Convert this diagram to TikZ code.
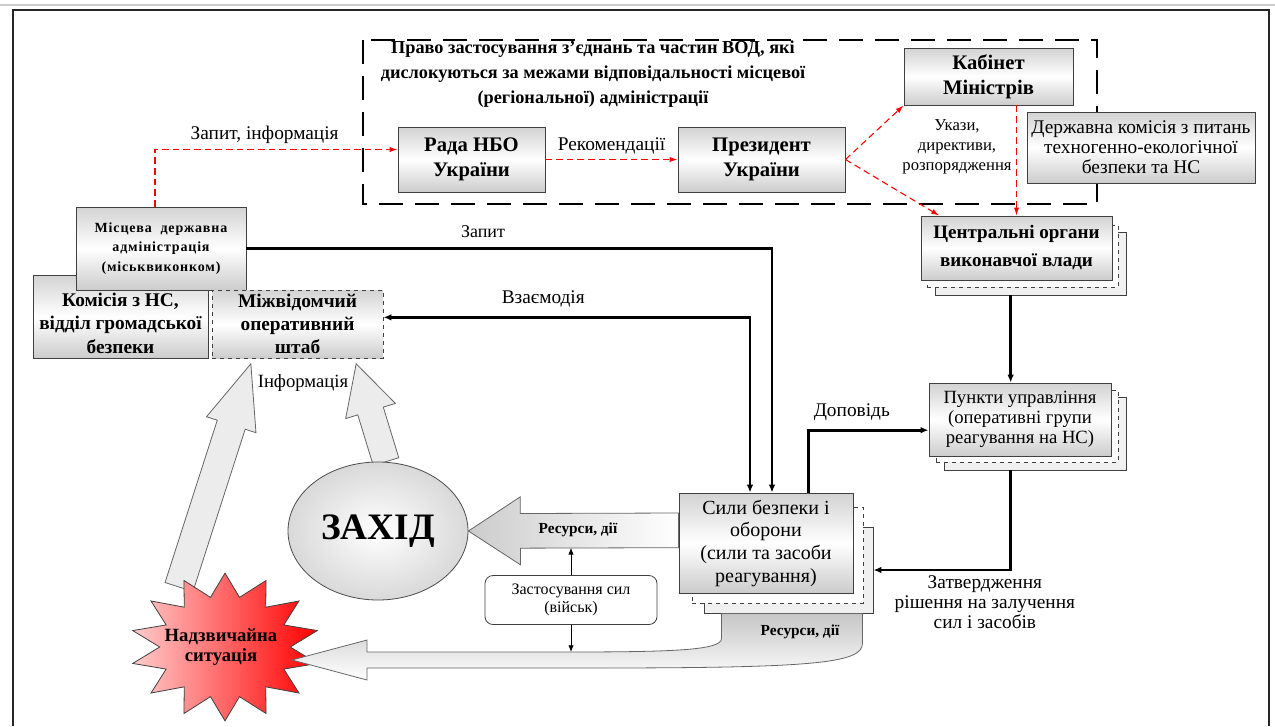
\documentclass[tikz,border=0pt]{standalone}
\usepackage{fontspec}
\setmainfont{Liberation Serif}
\usetikzlibrary{arrows.meta,calc,shapes.geometric,backgrounds}

\tikzset{
  box/.style={draw=black!75, line width=0.7pt, top color=gray!35, bottom color=gray!40, middle color=white, align=center, inner sep=1pt},
  backbox/.style={draw=black!75, line width=0.7pt, fill=gray!12},
  midbox/.style={draw=black!75, line width=0.6pt, dashed, fill=white},
  boxsize/.style 2 args={minimum width=#1*0.75pt, minimum height=#2*0.75pt},
  boxfont/.style={font=\fontsize{14.5}{17.5}\selectfont\bfseries},
  topfont/.style={font=\fontsize{15.5}{19}\selectfont\bfseries},
  bigfont/.style={font=\fontsize{14.3}{21}\selectfont\bfseries},
  labelfont/.style={font=\fontsize{14.5}{15}\selectfont},
  smallbold/.style={font=\fontsize{11.5}{13}\selectfont\bfseries},
  flow/.style={line width=2pt, -{Latex[length=6pt,width=5pt]}},
  reddash/.style={red, line width=0.8pt, dash pattern=on 5pt off 3pt, -{Latex[length=6pt,width=4pt]}},
  infoarrow/.style={draw=black!60, line width=0.6pt, fill=gray!15},
  resarrow/.style={draw=black!60, line width=0.6pt, left color=gray!40, right color=white},
  resarrowb/.style={draw=black!60, line width=0.6pt, top color=gray!45, bottom color=white},
}

% block arrow: start, tip, shaft half width, head half width, head length, style
\newcommand\blockarrow[6]{%
  \coordinate (ba-h) at ($(#2)!#5!(#1)$);
  \draw[#6] ($(#1)!#3!90:(#2)$) -- ($(ba-h)!#3!90:(#2)$) -- ($(ba-h)!#4!90:(#2)$)
    -- (#2) -- ($(ba-h)!#4!-90:(#2)$) -- ($(ba-h)!#3!-90:(#2)$) -- ($(#1)!#3!-90:(#2)$) -- cycle;
}

\begin{document}
\begin{tikzpicture}[x=0.75pt,y=-0.75pt]
\useasboundingbox (0,0) rectangle (1275,726);
% Frame
\draw[gray!40, line width=2pt] (0,5) -- (1275,5);
\draw[black!85, line width=1pt] (13,726) -- (13,10) -- (1269,10) -- (1269,726);

% Area of the higher authorities
\draw[line width=2.2pt, dash pattern=on 18pt off 9pt] (363,40) rectangle (1097,204);
\node[font=\fontsize{13.7}{18.75}\selectfont\bfseries, align=center] (pravo) at (593,74)
  {Право застосування з’єднань та частин ВОД, які\\дислокуються за межами відповідальності місцевої\\(регіональної) адміністрації};

\node[box, topfont, boxsize={147}{65}] (rada) at (471.5,159.5) {Рада НБО\\України};
\node[box, topfont, boxsize={167}{65}] (prez) at (761.5,159.5) {Президент\\України};
\node[box, topfont, boxsize={169}{57}] (kabmin) at (988.5,76.5) {Кабінет\\Міністрів};
\node[box, labelfont, boxsize={228}{71}] (derzhkom) at (1141,147.5) {Державна комісія з питань\\техногенно-екологічної\\безпеки та НС};

% Local level
\node[box, boxsize={175}{83}, label={[boxfont, align=center, yshift=-5pt]center:{Комісія з НС,\\відділ громадської\\безпеки}}] (komisiya) at (120.5,316.5) {};
\node[box, boxsize={170}{83}, font=\fontsize{10.5}{14.5}\selectfont\bfseries\addfontfeature{LetterSpace=6}] (mistseva) at (161,248.5) {Місцева \ державна\\адміністрація\\(міськвиконком)};
\node[box, dashed, boxfont, boxsize={171}{68}] (shtab) at (297.5,324) {Міжвідомчий\\оперативний\\штаб};

% Stacked boxes
\node[backbox, boxsize={191}{63}] (tsentr3) at (1030.5,263.5) {};
\node[midbox, boxsize={191}{62}] (tsentr2) at (1022.5,256) {};
\node[box, bigfont, boxsize={191}{64}] (tsentr) at (1016.5,248) {Центральні органи\\виконавчої влади};

\node[backbox, boxsize={182}{73}] (punkty3) at (1035,433.5) {};
\node[midbox, boxsize={182}{72}] (punkty2) at (1027,426) {};
\node[box, font=\fontsize{14}{15}\selectfont, boxsize={182}{73}] (punkty) at (1020,419.5) {Пункти управління\\(оперативні групи\\реагування на НС)};

\node[backbox, boxsize={169}{86}] (syly3) at (788.5,570) {};
\node[midbox, boxsize={171}{96}] (syly2) at (777.5,555) {};
\node[box, font=\fontsize{15}{17}\selectfont, boxsize={174}{100}] (syly) at (766,543) {Сили безпеки і\\оборони\\(сили та засоби\\реагування)};

\node[draw=black!75, line width=0.6pt, rounded corners=6pt, fill=white, align=center, font=\fontsize{12}{14}\selectfont, boxsize={172}{49}] (zast) at (571,600) {Застосування сил\\(військ)};

\node[ellipse, draw=black!70, line width=0.6pt, inner color=white, outer color=gray!30, boxsize={180}{138}, font=\fontsize{28}{30}\selectfont\bfseries] (zakhid) at (378,531) {ЗАХІД};

% Emergency
\node[star, star points=14, star point ratio=1.45, draw=black!75, line width=0.6pt, left color=red!20, right color=red, minimum size=142pt, inner sep=0pt, yscale=0.78] (nsstar) at (225,647) {};
\node[font=\fontsize{14}{15}\selectfont\bfseries, align=center] (nsit) at (221,647) {Надзвичайна\\ситуація};

% Red links
\draw[reddash] ([xshift=-4.5pt]mistseva.north) |- ([yshift=7.5pt]rada.west) node[pos=0.726, above=1pt, labelfont, black] {Запит, інформація};
\draw[reddash] (rada.east) -- (prez.west) node[midway, above, labelfont, black] {Рекомендації};
\draw[reddash] (prez.east) -- (kabmin.south west);
\draw[reddash] (prez.east) -- ([xshift=14pt]tsentr.north west);
\draw[reddash] (kabmin.south -| tsentr.north) -- (tsentr.north);
\node[font=\fontsize{12.5}{15}\selectfont, align=center] (ukazy) at (957,147) {Укази,\\директиви,\\розпорядження};

% Black links
\draw[flow] (mistseva.east) -| ([xshift=4.5pt]syly.north) node[pos=0.225, above=4pt, font=\fontsize{13.5}{15}\selectfont] {Запит};
\draw[flow, {Latex[length=6pt,width=5pt]}-{Latex[length=6pt,width=5pt]}] ([yshift=5pt]shtab.east) -| ([xshift=-12pt]syly.north) node[pos=0.218, above=3pt, labelfont] {Взаємодія};
\draw[flow] ([xshift=32pt]syly.north) |- ([yshift=-8pt]punkty.west) node[pos=0.68, above=3pt, labelfont] {Доповідь};
\draw[flow] ([xshift=-7pt]punkty.north |- tsentr3.south) -- ([xshift=-7pt]punkty.north);
\draw[flow] ([xshift=-7pt]punkty.south |- punkty3.south) |- (syly3.east) node[pos=0.594, below, labelfont, align=center] {Затвердження\\рішення на залучення\\сил і засобів};

% Wide arrows
\begin{pgfonlayer}{background}
\coordinate (infoA) at ([xshift=-35pt,yshift=-4pt]shtab.south);
\coordinate (infoB) at ([xshift=44pt,yshift=-4pt]shtab.south);
\coordinate (nsA) at ($(nsit)+(-42,-60)$);
\blockarrow{nsA}{infoA}{11pt}{19.5pt}{48pt}{infoarrow}
\blockarrow{[xshift=6pt]zakhid.north}{infoB}{10pt}{19.5pt}{37pt}{infoarrow}
\coordinate (resR) at ([yshift=9.5pt]syly.west);
\blockarrow{resR}{zakhid.east}{13pt}{25.5pt}{39pt}{resarrow}
\end{pgfonlayer}
\node[smallbold] (res1) at (578,530) {Ресурси, дії};
\node[font=\fontsize{14}{15}\selectfont] (info) at (303,383) {Інформація};

% Curved arrow to the emergency
\coordinate (bL) at ([xshift=13.5pt]syly3.south west);
\coordinate (bR) at ([xshift=-8.25pt]syly3.south east);
\coordinate (ntip) at ($(nsit)+(71,13)$);
\coordinate (shaftTop) at ($(ntip)+(0,-8)$);
\draw[resarrowb] (bL) -- ++(0,25) .. controls +(0,12) and +(110,0) .. ($(ntip)+(270,-8)$)
  -- ($(ntip)+(75,-8)$) -- ($(ntip)+(75,-20)$) -- (ntip) -- ($(ntip)+(75,20)$) -- ($(ntip)+(75,8)$)
  -- ($(ntip)+(300,8)$) .. controls +(220,0) and +(0,20) .. ($(bR)+(0,30)$) -- (bR) -- cycle;
\node[smallbold] (res2) at (800,632) {Ресурси, дії};

% Use of forces
\draw[line width=0.6pt, -{Latex[length=5pt,width=4pt]}] (zast.north) -- (zast.north |- {$(resR)+(0,17.5)$});
\draw[line width=0.6pt, -{Latex[length=5pt,width=4pt]}] (zast.south) -- (zast.south |- shaftTop);
\end{tikzpicture}
\end{document}
